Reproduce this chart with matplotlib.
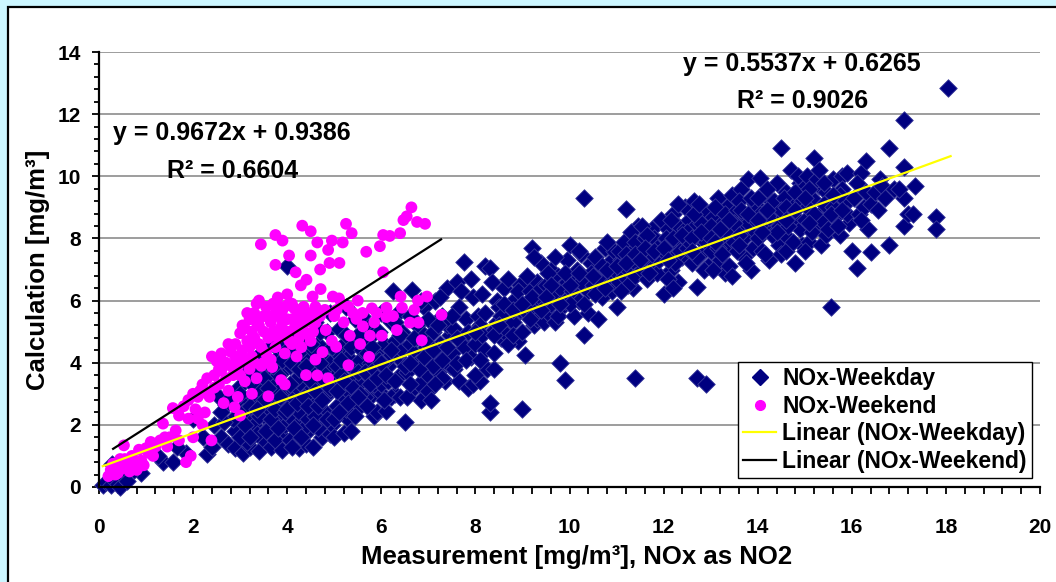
import numpy as np
import matplotlib.pyplot as plt
from matplotlib.patches import Rectangle
from matplotlib.ticker import MultipleLocator
from matplotlib.lines import Line2D

plt.rcParams['font.family'] = ['Liberation Sans', 'DejaVu Sans']
plt.rcParams['font.weight'] = 'bold'

weekday_pts = [
    (0.08, 0.05), (0.15, 0.15), (0.25, 0.05), (0.3, 0.25), (0.4, 0.1), (0.45, 0.0), (0.28, 0.75), (0.5, 0.35),
    (0.6, 0.2), (0.9, 0.45), (0.75, 0.55), (1.35, 0.8), (1.25, 1.0), (1.57, 0.8), (1.85, 1.1), (1.65, 1.3),
    (2.0, 2.2), (2.3, 1.05), (2.4, 1.3), (2.2, 1.6), (2.45, 2.0),
    (2.7, 2.65), (2.6, 1.6), (2.75, 1.4), (2.9, 1.8), (2.85, 2.2), (2.55, 2.9), (2.95, 3.2), (2.65, 2.1), (2.9, 1.25),
    (3.1, 2.65), (3.05, 1.1), (3.2, 1.3), (3.15, 1.8), (3.25, 2.2), (3.3, 2.9), (3.35, 3.3), (3.4, 1.15), (3.45, 2.6),
    (3.1, 3.6), (3.2, 3.9), (3.3, 2.0), (3.4, 3.8), (3.5, 1.5), (3.45, 4.3), (3.25, 3.3), (3.05, 2.4), (3.15, 1.45),
    (3.35, 1.7), (3.5, 2.3),
    (3.55, 3.6), (3.6, 2.9), (3.65, 1.3), (3.7, 2.0), (3.75, 3.2), (3.8, 4.2), (3.85, 1.7), (3.9, 2.6), (3.95, 3.0),
    (3.6, 4.0), (3.7, 4.6), (3.8, 2.3), (3.9, 3.7), (3.55, 2.5), (3.65, 3.4), (3.75, 1.5), (3.85, 4.5), (3.95, 2.0),
    (3.7, 2.7), (3.8, 3.6), (3.6, 1.9), (3.9, 1.2), (4.0, 7.1),
    (4.05, 1.5), (4.1, 2.2), (4.15, 3.1), (4.2, 4.3), (4.25, 1.25), (4.3, 2.7), (4.35, 3.6), (4.4, 4.9), (4.45, 1.8),
    (4.05, 3.9), (4.1, 2.8), (4.2, 2.0), (4.3, 3.3), (4.4, 1.4), (4.45, 4.1), (4.15, 4.7), (4.25, 2.4), (4.35, 1.9),
    (4.4, 3.0), (4.5, 2.5), (4.1, 1.3), (4.3, 4.4), (4.2, 3.5), (4.45, 2.2),
    (4.55, 1.3), (4.6, 3.8), (4.65, 4.6), (4.7, 2.1), (4.75, 1.6), (4.8, 2.9), (4.85, 5.0), (4.9, 1.7), (4.95, 3.5),
    (4.55, 2.8), (4.6, 5.3), (4.7, 3.2), (4.75, 4.2), (4.8, 2.4), (4.9, 4.0), (4.95, 2.0), (4.65, 1.9), (4.85, 3.0),
    (4.6, 2.3), (4.9, 5.6), (4.75, 3.7), (4.55, 4.4),
    (5.0, 1.6), (5.05, 2.6), (5.1, 3.3), (5.15, 4.5), (5.2, 1.75), (5.25, 5.8), (5.3, 2.2), (5.35, 3.9), (5.4, 2.9),
    (5.45, 4.8), (5.05, 3.9), (5.1, 5.1), (5.2, 2.9), (5.3, 4.2), (5.35, 1.8), (5.4, 3.5), (5.0, 4.4), (5.25, 2.5),
    (5.45, 5.4), (5.15, 3.6), (5.3, 3.1),
    (5.55, 2.6), (5.6, 3.4), (5.65, 4.6), (5.7, 5.2), (5.75, 2.9), (5.8, 3.8), (5.85, 2.3), (5.9, 4.3), (5.95, 3.1),
    (5.55, 4.1), (5.6, 5.5), (5.7, 3.6), (5.8, 4.9), (5.9, 2.4), (5.95, 5.0), (5.65, 2.9), (5.75, 4.0), (5.85, 3.3),
    (5.5, 4.9),
    (6.0, 3.3), (6.05, 4.6), (6.1, 2.45), (6.15, 3.9), (6.2, 5.3), (6.25, 6.3), (6.3, 3.0), (6.35, 4.2), (6.4, 3.6),
    (6.45, 5.0), (6.0, 5.6), (6.1, 4.1), (6.2, 2.9), (6.3, 4.7), (6.4, 2.9), (6.15, 3.4), (6.35, 5.6), (6.05, 2.8),
    (6.45, 4.4),
    (6.5, 2.1), (6.55, 3.7), (6.6, 4.6), (6.65, 6.35), (6.7, 3.2), (6.75, 5.2), (6.8, 4.1), (6.85, 2.8), (6.9, 4.9),
    (6.95, 3.6), (6.6, 5.5), (6.7, 4.3), (6.8, 3.3), (6.9, 5.8), (6.55, 2.9), (6.75, 4.0), (6.95, 4.5), (6.85, 6.0),
    (7.0, 3.1), (7.05, 4.2), (7.1, 5.0), (7.15, 6.0), (7.2, 3.7), (7.25, 4.6), (7.3, 5.5), (7.35, 3.4), (7.4, 6.4),
    (7.45, 4.9), (7.0, 5.4), (7.1, 3.9), (7.2, 4.4), (7.3, 3.5), (7.4, 5.2), (7.05, 2.8), (7.25, 6.1), (7.45, 3.9),
    (7.5, 4.3), (7.55, 5.1), (7.6, 6.6), (7.65, 3.4), (7.7, 4.7), (7.75, 7.25), (7.8, 5.4), (7.85, 3.2), (7.9, 4.2),
    (7.95, 6.1), (7.55, 3.8), (7.65, 5.8), (7.75, 4.5), (7.85, 5.0), (7.95, 3.3), (7.6, 4.0), (7.9, 6.7), (7.7, 6.3),
    (8.0, 4.6), (8.05, 5.5), (8.1, 3.4), (8.15, 6.2), (8.2, 7.1), (8.25, 3.8), (8.3, 2.4), (8.3, 2.7), (8.35, 5.0),
    (8.4, 3.8), (8.45, 6.0), (8.3, 7.05), (8.0, 3.6), (8.1, 5.2), (8.2, 4.4), (8.4, 4.3), (8.45, 5.3), (8.15, 4.9),
    (8.35, 6.6),
    (8.5, 5.8), (8.55, 4.8), (8.6, 6.4), (8.65, 5.2), (8.7, 6.7), (8.75, 4.9), (8.8, 6.0), (8.85, 5.5), (8.9, 4.7),
    (8.95, 6.5), (8.6, 5.0), (8.8, 5.3), (8.9, 6.3), (8.55, 5.5), (8.7, 4.6), (8.95, 5.7), (8.8, 4.9),
    (9.0, 2.5), (9.05, 4.25), (9.1, 5.6), (9.15, 6.3), (9.2, 7.7), (9.25, 5.2), (9.3, 6.6), (9.35, 5.9), (9.4, 7.2),
    (9.45, 6.0), (9.1, 6.8), (9.2, 5.7), (9.3, 5.4), (9.4, 6.4), (9.25, 7.4), (9.45, 5.3), (9.15, 5.4),
    (9.5, 6.5), (9.55, 5.6), (9.6, 7.0), (9.65, 6.2), (9.7, 5.3), (9.75, 6.8), (9.8, 4.0), (9.85, 5.8), (9.9, 3.45),
    (9.95, 7.3), (9.6, 5.9), (9.7, 7.4), (9.8, 6.4), (9.9, 6.0), (9.55, 6.9), (9.75, 5.5), (9.95, 6.6),
    (10.0, 7.8), (10.05, 6.3), (10.1, 5.5), (10.15, 7.0), (10.2, 6.0), (10.25, 7.5), (10.3, 9.3), (10.3, 4.9),
    (10.35, 6.7), (10.4, 5.6), (10.45, 7.2), (10.1, 6.6), (10.2, 7.6), (10.4, 6.3), (10.0, 5.9), (10.3, 5.9),
    (10.45, 6.9), (10.25, 6.6),
    (10.5, 6.5), (10.55, 7.4), (10.6, 5.4), (10.65, 6.9), (10.7, 6.1), (10.75, 7.7), (10.8, 6.6), (10.85, 7.2),
    (10.9, 6.3), (10.95, 7.6), (11.0, 5.8), (10.6, 6.7), (10.7, 7.1), (10.8, 7.9), (10.9, 6.9), (10.55, 6.2),
    (10.75, 6.4), (10.95, 7.0),
    (11.05, 6.6), (11.1, 7.3), (11.15, 6.8), (11.2, 8.95), (11.25, 7.0), (11.3, 7.7), (11.35, 6.4), (11.4, 3.5),
    (11.45, 8.4), (11.05, 7.6), (11.15, 7.9), (11.25, 6.5), (11.35, 7.4), (11.45, 7.1), (11.1, 6.3), (11.3, 8.2),
    (11.4, 6.8), (11.2, 7.5), (11.5, 7.8), (11.4, 7.9),
    (11.55, 7.0), (11.6, 8.0), (11.65, 6.7), (11.7, 7.6), (11.75, 8.3), (11.8, 7.2), (11.85, 6.9), (11.9, 7.9),
    (11.95, 8.6), (11.6, 7.4), (11.7, 6.9), (11.8, 8.0), (11.9, 7.3), (11.55, 8.4), (11.75, 7.5), (11.95, 7.7),
    (12.0, 6.2), (11.65, 8.1), (11.85, 7.7),
    (12.05, 7.5), (12.1, 8.3), (12.15, 7.0), (12.2, 8.8), (12.25, 7.8), (12.3, 6.6), (12.35, 8.1), (12.4, 7.4),
    (12.45, 9.0), (12.05, 8.0), (12.1, 6.7), (12.2, 7.6), (12.3, 8.4), (12.4, 7.9), (12.15, 8.6), (12.25, 7.2),
    (12.35, 7.6), (12.45, 8.3), (12.1, 7.8), (12.3, 9.1), (12.2, 6.4),
    (12.5, 7.7), (12.55, 8.6), (12.6, 7.2), (12.65, 9.2), (12.7, 6.45), (12.7, 3.5), (12.75, 8.0), (12.8, 7.5),
    (12.85, 8.9), (12.9, 3.3), (12.9, 7.9), (12.95, 8.4), (12.55, 7.9), (12.6, 8.3), (12.7, 7.4), (12.8, 8.5),
    (12.95, 7.1), (12.65, 8.8), (12.85, 7.0), (12.75, 9.1), (12.5, 8.2),
    (13.0, 7.6), (13.05, 8.7), (13.1, 8.1), (13.15, 9.3), (13.2, 7.3), (13.25, 8.5), (13.3, 6.9), (13.35, 9.0),
    (13.4, 7.8), (13.45, 8.3), (13.05, 7.0), (13.1, 9.0), (13.2, 8.0), (13.3, 8.8), (13.4, 7.1), (13.15, 7.7),
    (13.35, 8.2), (13.45, 9.4), (13.0, 8.4), (13.25, 7.5), (13.45, 6.8),
    (13.5, 7.9), (13.55, 8.9), (13.6, 8.4), (13.65, 9.6), (13.7, 7.4), (13.75, 8.7), (13.8, 9.9), (13.85, 7.0),
    (13.9, 8.2), (13.95, 9.1), (13.55, 7.6), (13.6, 9.2), (13.7, 8.0), (13.8, 8.5), (13.9, 7.7), (13.65, 8.9),
    (13.85, 9.3), (13.5, 8.5), (13.75, 7.2), (13.95, 8.6),
    (14.05, 9.96), (14.0, 8.0), (14.05, 8.8), (14.1, 7.6), (14.15, 9.4), (14.2, 8.3), (14.25, 7.3), (14.3, 9.0),
    (14.35, 8.6), (14.4, 9.8), (14.45, 7.8), (14.0, 9.3), (14.1, 8.5), (14.2, 9.6), (14.3, 8.1), (14.4, 8.9),
    (14.15, 7.5), (14.35, 9.2), (14.45, 8.4), (14.25, 8.7), (14.5, 7.5),
    (14.5, 10.9), (14.55, 8.7), (14.6, 9.5), (14.65, 8.0), (14.7, 10.2), (14.75, 9.1), (14.8, 7.2), (14.85, 8.6),
    (14.9, 9.8), (14.95, 7.8), (14.55, 9.3), (14.6, 7.6), (14.7, 8.8), (14.8, 9.5), (14.9, 8.3), (14.65, 8.4),
    (14.85, 10.0), (14.95, 9.2), (14.75, 7.9), (14.5, 8.9),
    (15.0, 8.6), (15.05, 10.0), (15.1, 7.9), (15.15, 9.3), (15.2, 10.6), (15.25, 8.4), (15.3, 9.7), (15.35, 7.8),
    (15.4, 8.9), (15.45, 9.5), (15.05, 9.0), (15.15, 8.2), (15.25, 9.9), (15.35, 8.6), (15.45, 8.1), (15.1, 9.6),
    (15.3, 10.2), (15.0, 7.6), (15.4, 9.1),
    (15.55, 5.8), (15.5, 8.3), (15.6, 9.9), (15.65, 8.7), (15.7, 9.3), (15.75, 8.1), (15.8, 10.0), (15.85, 9.1),
    (15.9, 10.1), (15.95, 8.5), (15.6, 9.0), (15.7, 8.4), (15.8, 9.6), (15.9, 8.8), (16.0, 7.6), (15.75, 9.4),
    (15.55, 8.8),
    (16.1, 7.05), (16.05, 9.3), (16.15, 8.8), (16.2, 10.1), (16.25, 9.0), (16.3, 10.5), (16.35, 8.3), (16.4, 7.55),
    (16.45, 9.4), (16.1, 9.8), (16.3, 9.5), (16.2, 8.6), (16.4, 9.1), (16.5, 9.5),
    (16.6, 9.9), (16.65, 9.7), (16.8, 10.9), (16.8, 7.8), (16.9, 9.6), (16.7, 9.3), (16.55, 8.9),
    (17.1, 11.8), (17.1, 10.3), (17.1, 9.3), (17.1, 8.4), (17.2, 8.8), (17.35, 9.7), (17.3, 8.8), (17.8, 8.7),
    (17.8, 8.3), (18.05, 12.85), (17.0, 9.6),
    # filling the dense parts of the cloud
    (2.6, 2.4), (2.8, 2.9), (3.0, 3.0), (3.0, 1.6), (3.1, 2.0), (3.2, 2.6), (3.3, 3.6), (3.4, 2.3), (3.45, 3.1),
    (3.5, 3.5), (3.55, 1.8), (3.6, 3.2), (3.65, 2.2), (3.7, 3.9), (3.75, 2.5), (3.8, 1.9), (3.85, 2.9), (3.9, 4.1),
    (3.95, 2.4), (3.5, 2.8), (3.2, 1.6), (3.35, 2.5),
    (4.0, 2.5), (4.05, 3.3), (4.1, 4.0), (4.15, 1.9), (4.2, 2.7), (4.25, 3.8), (4.3, 1.6), (4.35, 2.9), (4.4, 3.9),
    (4.45, 2.6), (4.5, 3.4), (4.5, 4.6), (4.55, 2.0), (4.6, 3.1), (4.65, 2.6), (4.7, 4.0), (4.75, 2.8), (4.8, 3.4),
    (4.85, 2.2), (4.9, 3.2), (4.95, 4.5), (4.0, 4.4), (4.3, 5.0), (4.7, 5.0),
    (5.0, 2.2), (5.05, 3.1), (5.1, 2.4), (5.15, 4.1), (5.2, 3.4), (5.25, 4.9), (5.3, 2.7), (5.35, 4.5), (5.4, 3.2),
    (5.45, 2.3), (5.5, 3.7), (5.55, 3.0), (5.6, 4.4), (5.65, 3.7), (5.7, 4.3), (5.75, 3.3), (5.8, 4.5), (5.85, 3.8),
    (5.9, 3.5), (5.95, 4.1), (5.5, 2.9), (5.7, 2.6),
    (6.0, 4.0), (6.1, 3.6), (6.2, 4.4), (6.3, 3.4), (6.4, 4.9), (6.5, 3.9), (6.6, 3.3), (6.7, 4.8), (6.8, 3.8),
    (6.9, 4.2), (7.0, 4.6), (7.1, 4.4), (7.2, 5.2), (7.3, 4.1), (7.4, 4.5), (7.5, 5.5), (6.3, 5.3), (6.6, 4.0),
    (7.15, 3.3),
    (7.6, 4.8), (7.8, 4.1), (8.0, 5.0), (8.2, 5.6), (8.4, 4.9), (8.6, 5.9), (8.8, 5.7), (9.0, 5.0), (9.2, 6.1),
    (9.4, 5.7), (9.6, 6.5), (9.8, 5.9), (10.0, 6.5), (8.1, 4.1), (8.5, 5.2), (9.0, 5.9), (9.5, 6.1), (9.9, 6.9),
    (10.2, 6.9), (10.5, 6.8), (10.8, 7.0), (11.0, 7.1), (11.2, 7.2), (11.4, 7.5), (11.6, 7.7), (11.8, 7.6),
    (12.0, 7.7), (12.2, 8.0), (12.4, 8.1), (12.6, 8.0), (12.8, 8.2), (13.0, 8.0), (13.2, 8.3), (13.4, 8.6),
    (13.6, 8.1), (13.8, 8.8), (14.0, 8.6), (14.2, 8.9), (14.4, 8.2), (14.6, 9.0), (14.8, 8.9), (15.0, 9.3),
    (15.2, 8.8), (15.4, 9.8), (15.6, 9.4), (15.8, 8.9), (11.5, 7.3), (12.1, 7.3), (12.6, 7.6), (13.1, 7.9),
    (13.6, 7.8), (14.1, 8.2), (14.6, 8.6), (15.1, 8.5),
]

weekend_pts = [
    (0.2, 0.35), (0.25, 0.55), (0.3, 0.75), (0.4, 0.45), (0.45, 0.9), (0.5, 0.6), (0.53, 1.34), (0.6, 0.8),
    (0.65, 0.5), (0.7, 1.0), (0.75, 0.7), (0.8, 0.55), (0.85, 1.2), (0.9, 0.85), (1.0, 1.25), (1.05, 1.1),
    (1.1, 1.45), (1.2, 1.3), (1.3, 1.5), (1.36, 2.04), (1.4, 1.6), (1.45, 1.3),
    (1.57, 2.54), (1.63, 1.82), (1.7, 1.5), (1.8, 2.6), (1.85, 0.8), (1.9, 2.8), (1.95, 1.0), (2.0, 1.6),
    (2.05, 2.5), (2.1, 2.9), (2.15, 3.1), (2.2, 3.3), (2.25, 2.4), (2.3, 3.5), (2.35, 2.9), (2.39, 1.5),
    (2.4, 4.2), (2.45, 3.6), (2.5, 4.05), (2.2, 2.0), (2.0, 3.0), (1.9, 2.2),
    (2.55, 3.3), (2.6, 3.75), (2.65, 2.7), (2.7, 4.0), (2.75, 3.1), (2.8, 4.35), (2.85, 3.6), (2.88, 2.57),
    (2.9, 4.6), (2.95, 3.9), (3.0, 4.95), (3.0, 2.3), (3.05, 4.4), (3.1, 5.1), (3.1, 3.4), (3.15, 4.7),
    (3.2, 5.4), (3.2, 3.8), (3.25, 4.2), (3.3, 5.6), (3.3, 4.8), (3.35, 3.5), (3.4, 5.2), (3.4, 6.0),
    (3.44, 7.81), (3.45, 4.5), (3.5, 5.5), (3.5, 4.0), (3.35, 5.9), (3.15, 5.6), (3.25, 3.0), (2.95, 2.9),
    (3.55, 5.8), (3.6, 2.92), (3.6, 4.8), (3.65, 5.3), (3.68, 3.86), (3.7, 5.9), (3.75, 8.11), (3.75, 7.15),
    (3.75, 4.5), (3.8, 5.5), (3.85, 5.1), (3.87, 3.44), (3.9, 7.93), (3.9, 5.7), (3.95, 4.3), (4.0, 5.85),
    (4.0, 5.0), (4.04, 7.45), (4.1, 5.4), (4.1, 4.6), (4.15, 5.75), (4.18, 6.91), (4.2, 5.2), (4.25, 4.8),
    (4.29, 6.49), (4.3, 5.6), (4.32, 8.41), (4.35, 5.0), (4.4, 3.6), (4.41, 6.67), (4.45, 5.5), (4.5, 7.45),
    (4.5, 8.23), (4.5, 4.7), (4.54, 6.13), (4.55, 5.3), (4.6, 4.1), (4.6, 5.29), (4.64, 3.59), (4.64, 7.87),
    (4.0, 6.2), (3.8, 6.1), (4.2, 4.2), (3.95, 3.3),
    (4.71, 6.37), (4.75, 4.34), (4.8, 5.7), (4.82, 5.05), (4.87, 3.5), (4.87, 7.63), (4.9, 7.21), (4.95, 7.93),
    (4.97, 6.13), (5.0, 5.5), (5.04, 4.51), (5.1, 6.07), (5.11, 7.21), (5.15, 5.9), (5.18, 7.87), (5.25, 8.47),
    (5.3, 3.92), (5.33, 4.87), (5.37, 8.17), (5.4, 5.6), (5.47, 5.41), (5.5, 6.0), (5.55, 4.6), (5.61, 5.17),
    (5.2, 5.3), (4.95, 4.7),
    (5.68, 7.57), (5.74, 4.19), (5.76, 4.87), (5.8, 5.75), (5.9, 5.6), (5.97, 7.75), (6.01, 4.87), (6.04, 8.11),
    (6.04, 6.91), (6.11, 5.47), (6.11, 5.77), (6.18, 8.08), (6.25, 5.5), (6.33, 5.05), (6.4, 8.17), (6.41, 6.13),
    (6.44, 5.77), (6.47, 8.59), (6.54, 8.71), (6.61, 5.29), (6.64, 9.0), (6.76, 8.53), (6.78, 6.0), (6.79, 5.29),
    (6.86, 4.72), (6.93, 8.47), (6.97, 6.13), (7.28, 5.54), (6.7, 5.7), (5.85, 5.3),
    # filling the dense parts of the cloud
    (2.6, 4.3), (2.7, 3.5), (2.8, 3.9), (2.9, 4.2), (3.0, 3.6), (3.05, 5.2), (3.1, 4.1), (3.2, 4.5), (3.25, 5.0),
    (3.3, 4.0), (3.35, 5.3), (3.4, 4.6), (3.45, 3.9), (3.5, 5.0), (3.55, 4.3), (3.6, 5.5), (3.65, 4.1), (3.7, 5.0),
    (3.75, 5.6), (3.8, 4.8), (3.85, 5.8), (3.9, 5.3), (3.95, 4.9), (4.0, 5.4), (4.05, 4.7), (4.1, 5.9), (4.15, 5.1),
    (4.2, 5.7), (4.25, 5.4), (4.3, 4.5), (4.35, 5.8), (4.4, 5.3), (4.45, 4.9), (4.5, 5.6), (4.55, 5.0), (2.3, 3.0),
    (2.45, 3.2), (2.55, 3.8), (2.75, 4.6), (3.0, 4.2), (1.7, 2.3), (2.1, 2.2), (0.35, 0.4), (0.55, 0.9),
    (0.95, 0.7), (1.15, 1.0), (1.5, 1.6), (4.6, 5.8), (4.7, 5.5), (5.05, 5.7), (5.3, 5.8), (5.6, 5.6), (4.7, 7.0),
]

# Excel trend lines as printed on the chart
weekday_slope, weekday_icept = 0.5537, 0.6265
weekend_slope, weekend_icept = 0.9672, 0.9386
weekday_xrange = [0.08, 18.1]
weekend_xrange = [0.3, 7.27]

xticks = [0, 2, 4, 6, 8, 10, 12, 14, 16, 18, 20]
yticks = [0, 2, 4, 6, 8, 10, 12, 14]

W, H = 1056, 582
fig = plt.figure(figsize=(W / 100, H / 100), dpi=100, facecolor='#ccf6ff')


def fx(px):
    return px / W


def fy(py):
    return 1 - py / H


# white chart area with dark frame
fig.patches.append(Rectangle((fx(8), fy(620)), fx(1100), fy(7) - fy(620), transform=fig.transFigure,
                             facecolor='white', edgecolor='black', lw=1.6, zorder=-10))

ax = fig.add_axes([fx(99), fy(487), (1040 - 99) / W, (487 - 52) / H])
ax.patch.set_alpha(0)

wd = np.array(weekday_pts)
we = np.array(weekend_pts)
ax.scatter(wd[:, 0], wd[:, 1], marker='D', s=80, c='#000080', edgecolors='#3b3b9c', linewidths=0.6,
           zorder=3, clip_on=False)
ax.scatter(we[:, 0], we[:, 1], marker='o', s=72, c='#ff00ff', edgecolors='none', zorder=4, clip_on=False)

xs = np.array(weekday_xrange)
ax.plot(xs, weekday_slope * xs + weekday_icept, color='#ffff00', lw=1.6, zorder=5)
xs = np.array(weekend_xrange)
ax.plot(xs, weekend_slope * xs + weekend_icept, color='black', lw=1.6, zorder=5)

ax.set_xlim(0, 20)
ax.set_ylim(0, 14)
ax.set_xticks(xticks)
ax.set_yticks(yticks)
ax.xaxis.set_minor_locator(MultipleLocator(0.4))
ax.yaxis.set_minor_locator(MultipleLocator(0.4))
ax.tick_params(axis='both', which='both', direction='out', width=1.3, colors='black', labelsize=15)
ax.tick_params(axis='x', which='major', length=5, pad=17)
ax.tick_params(axis='x', which='minor', length=5)
ax.tick_params(axis='y', which='major', length=5, pad=8)
ax.tick_params(axis='y', which='minor', length=3.5)

ax.yaxis.grid(True, which='major', color='#8c8c8c', lw=1.2)
ax.set_axisbelow(True)
for s in ['top', 'right']:
    ax.spines[s].set_visible(False)
for s in ['left', 'bottom']:
    ax.spines[s].set_linewidth(1.6)
    ax.spines[s].set_zorder(6)

fig.text(fx(577), fy(557), 'Measurement [mg/m³], NOx as NO2', ha='center', va='center', fontsize=18.5)
fig.text(fx(38), fy(270), 'Calculation [mg/m³]', rotation=90, ha='center', va='center', fontsize=18.5)

fig.text(fx(113), fy(140), 'y = 0.9672x + 0.9386', ha='left', va='baseline', fontsize=18)
fig.text(fx(167), fy(178), 'R² = 0.6604', ha='left', va='baseline', fontsize=18)
fig.text(fx(683), fy(71), 'y = 0.5537x + 0.6265', ha='left', va='baseline', fontsize=18)
fig.text(fx(737), fy(108), 'R² = 0.9026', ha='left', va='baseline', fontsize=18)

handles = [
    Line2D([], [], ls='none', marker='D', ms=8, color='#000080'),
    Line2D([], [], ls='none', marker='o', ms=7, color='#ff00ff'),
    Line2D([], [], color='#ffff00', lw=1.6),
    Line2D([], [], color='black', lw=1.6),
]
labels = ['NOx-Weekday', 'NOx-Weekend', 'Linear (NOx-Weekday)', 'Linear (NOx-Weekend)']
leg = ax.legend(handles, labels, loc='lower right', bbox_to_anchor=(fx(1032), fy(478)),
                bbox_transform=fig.transFigure, borderaxespad=0, fontsize=16.5, fancybox=False,
                framealpha=1, edgecolor='black', handlelength=1.4, handletextpad=0.3,
                labelspacing=0.2, borderpad=0.22)
leg.get_frame().set_linewidth(1.0)
leg.set_zorder(7)

fig.savefig('out.png', dpi=100, facecolor=fig.get_facecolor())
